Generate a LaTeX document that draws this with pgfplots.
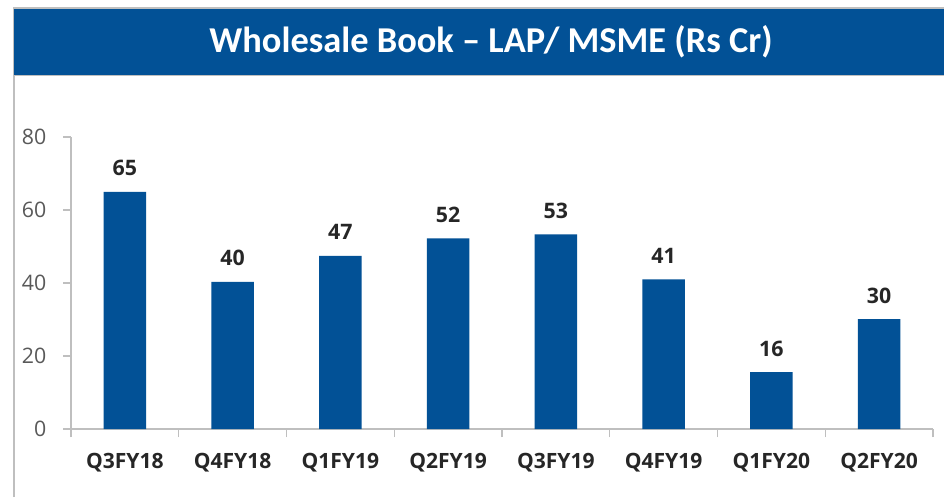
\documentclass[border=0pt]{standalone}
\usepackage{pgfplots}
\pgfplotsset{compat=1.18}
\usepackage{fontspec}
\setmainfont{Open Sans}
\newfontfamily\titlefont{Carlito}
\definecolor{barblue}{RGB}{2,81,150}
\definecolor{axgray}{RGB}{191,191,191}
\definecolor{lblgray}{RGB}{89,89,89}
\definecolor{lbldark}{RGB}{38,38,38}
\begin{document}
\begin{tikzpicture}[x=0.75pt,y=0.75pt]
\path[use as bounding box, fill=white] (0,0) rectangle (944,497);
% border and banner
\draw[axgray, line width=1.2pt] (14,0) -- (14,489) -- (944,489);
\fill[barblue] (14,488) rectangle (944,422);
\draw[axgray, line width=1pt] (14,421.5) -- (944,421.5);
\node[text=white, font=\titlefont\bfseries\fontsize{27.3}{31}\selectfont] at (491,455) {Wholesale Book – LAP/ MSME (Rs Cr)};
\begin{axis}[
  at={(53.25pt,51pt)}, anchor=south west,
  scale only axis, width=646.5pt, height=219pt,
  xmin=-0.5, xmax=7.5, ymin=0, ymax=80,
  axis x line=bottom, axis y line=left,
  axis line style={-, draw=axgray, line width=0.8pt},
  ytick={0,20,40,60,80},
  xtick={0,...,7},
  xticklabels={Q3FY18,Q4FY18,Q1FY19,Q2FY19,Q3FY19,Q4FY19,Q1FY20,Q2FY20},
  minor xtick={-0.5,0.5,...,7.5},
  major x tick style={draw=none},
  tick align=outside,
  major tick length=6pt, minor tick length=6pt,
  tick style={draw=axgray, line width=0.8pt},
  /pgf/number format/assume math mode=true,
  yticklabel style={font=\fontsize{16}{19}\selectfont, text=lblgray, xshift=-9pt},
  xticklabel style={font=\bfseries\fontsize{15.8}{19}\selectfont, text=lbldark, yshift=-8.5pt},
  ybar, bar width=32pt,
  nodes near coords,
  nodes near coords style={font=\bfseries\fontsize{16}{19}\selectfont, text=lbldark,
     /pgf/number format/fixed, /pgf/number format/precision=0, anchor=base, yshift=12pt},
  clip=false,
]
\addplot[fill=barblue, draw=none] coordinates {
 (0,65.0) (1,40.3) (2,47.4) (3,52.2) (4,53.3) (5,41.0) (6,15.6) (7,30.1)
};
\end{axis}
\end{tikzpicture}
\end{document}
